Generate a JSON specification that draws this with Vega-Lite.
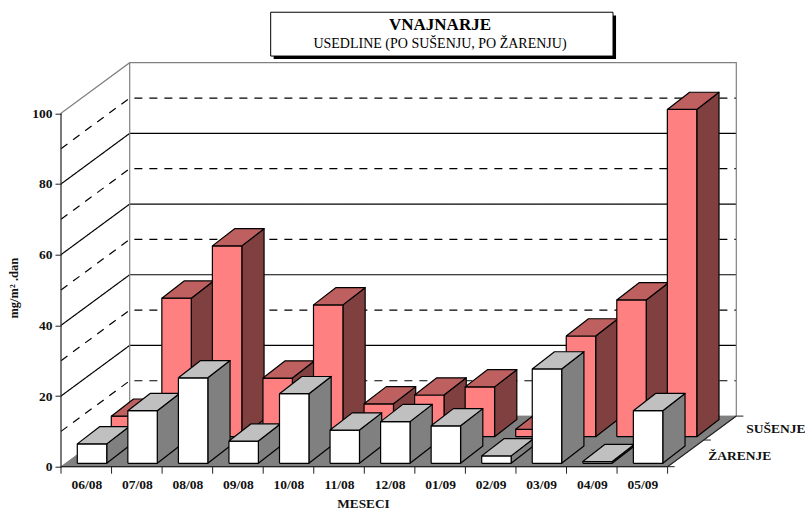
{
"$schema":"https://vega.github.io/schema/vega-lite/v6.json",
"autosize":{"type":"none"},
"padding":{"left":61,"top":62.7,"right":0,"bottom":43.3},
"width":744,"height":404,
"background":"white",
"config":{"view":{"stroke":null},"font":"Liberation Serif"},
"title":{"text":"VNAJNARJE","subtitle":"USEDLINE (PO SUŠENJU, PO ŽARENJU)","font":"Liberation Serif","fontSize":17,"fontWeight":"bold","color":"black","subtitleFont":"Liberation Serif","subtitleFontSize":14,"subtitleColor":"black","subtitlePadding":3,"anchor":"middle","dx":7,"offset":-40,"zindex":1},
"datasets":{
"meseci":[
{"mesec":"06/08","rbr":0,"serija":"SUŠENJE","vrednost":5.8},
{"mesec":"07/08","rbr":1,"serija":"SUŠENJE","vrednost":39.2},
{"mesec":"08/08","rbr":2,"serija":"SUŠENJE","vrednost":54},
{"mesec":"09/08","rbr":3,"serija":"SUŠENJE","vrednost":16.6},
{"mesec":"10/08","rbr":4,"serija":"SUŠENJE","vrednost":37.3},
{"mesec":"11/08","rbr":5,"serija":"SUŠENJE","vrednost":9.3},
{"mesec":"12/08","rbr":6,"serija":"SUŠENJE","vrednost":11.8},
{"mesec":"01/09","rbr":7,"serija":"SUŠENJE","vrednost":14.1},
{"mesec":"02/09","rbr":8,"serija":"SUŠENJE","vrednost":2.1},
{"mesec":"03/09","rbr":9,"serija":"SUŠENJE","vrednost":28.5},
{"mesec":"04/09","rbr":10,"serija":"SUŠENJE","vrednost":38.7},
{"mesec":"05/09","rbr":11,"serija":"SUŠENJE","vrednost":92.6},
{"mesec":"06/08","rbr":0,"serija":"ŽARENJE","vrednost":5.5},
{"mesec":"07/08","rbr":1,"serija":"ŽARENJE","vrednost":14.9},
{"mesec":"08/08","rbr":2,"serija":"ŽARENJE","vrednost":24.2},
{"mesec":"09/08","rbr":3,"serija":"ŽARENJE","vrednost":6.3},
{"mesec":"10/08","rbr":4,"serija":"ŽARENJE","vrednost":19.7},
{"mesec":"11/08","rbr":5,"serija":"ŽARENJE","vrednost":9.4},
{"mesec":"12/08","rbr":6,"serija":"ŽARENJE","vrednost":11.8},
{"mesec":"01/09","rbr":7,"serija":"ŽARENJE","vrednost":10.6},
{"mesec":"02/09","rbr":8,"serija":"ŽARENJE","vrednost":2.1},
{"mesec":"03/09","rbr":9,"serija":"ŽARENJE","vrednost":26.7},
{"mesec":"04/09","rbr":10,"serija":"ŽARENJE","vrednost":0.5},
{"mesec":"05/09","rbr":11,"serija":"ŽARENJE","vrednost":14.9}
],
"pod":[
{"r":0,"mesec":0,"dubina":0,"nivo":0},
{"r":1,"mesec":0,"dubina":1,"nivo":0},
{"r":2,"mesec":12,"dubina":1,"nivo":0},
{"r":3,"mesec":12,"dubina":0,"nivo":0},
{"r":4,"mesec":0,"dubina":0,"nivo":0}
],
"mreza":[
{"nivo":10,"vrsta":"pomocna"},{"nivo":20,"vrsta":"glavna"},{"nivo":30,"vrsta":"pomocna"},{"nivo":40,"vrsta":"glavna"},{"nivo":50,"vrsta":"pomocna"},{"nivo":60,"vrsta":"glavna"},{"nivo":70,"vrsta":"pomocna"},{"nivo":80,"vrsta":"glavna"},{"nivo":90,"vrsta":"pomocna"}
],
"okvir":[
{"linija":"a","r":0,"mesec":0,"dubina":0,"nivo":100},
{"linija":"a","r":1,"mesec":0,"dubina":1,"nivo":100},
{"linija":"a","r":2,"mesec":12,"dubina":1,"nivo":100},
{"linija":"a","r":3,"mesec":12,"dubina":1,"nivo":0},
{"linija":"b","r":0,"mesec":0,"dubina":1,"nivo":100},
{"linija":"b","r":1,"mesec":0,"dubina":1,"nivo":0},
{"linija":"c","r":0,"mesec":0,"dubina":0,"nivo":100},
{"linija":"c","r":1,"mesec":0,"dubina":0,"nivo":0},
{"linija":"c","r":2,"mesec":12,"dubina":0,"nivo":0},
{"linija":"c","r":3,"mesec":12,"dubina":1,"nivo":0}
],
"podeoci":[{"rbr":0},{"rbr":1},{"rbr":2},{"rbr":3},{"rbr":4},{"rbr":5},{"rbr":6},{"rbr":7},{"rbr":8},{"rbr":9},{"rbr":10},{"rbr":11},{"rbr":12}],
"dubine":[{"dubina":0},{"dubina":0.527},{"dubina":1}],
"serije":[{"serija":"SUŠENJE","dubina":0.745},{"serija":"ŽARENJE","dubina":0.217}]
},
"encoding":{
"x":{"field":"vx","type":"quantitative","scale":{"domain":[0,14.718],"nice":false,"zero":false},
"axis":{"values":[0.5,1.5,2.5,3.5,4.5,5.5,6.5,7.5,8.5,9.5,10.5,11.5],"labelExpr":"['06/08','07/08','08/08','09/08','10/08','11/08','12/08','01/09','02/09','03/09','04/09','05/09'][floor(datum.value)]","grid":false,"domain":false,"ticks":false,"labelPadding":11,"labelFont":"Liberation Serif","labelFontWeight":"bold","labelFontSize":13.5,"labelColor":"#111","labelOverlap":false,"labelBound":false,"labelFlush":false,"title":"MESECI","titleFont":"Liberation Serif","titleFontWeight":"bold","titleFontSize":13.3,"titleColor":"#111","titleX":302,"titleY":30,"titleAnchor":"middle","titleAlign":"center"}},
"y":{"field":"vy","type":"quantitative","scale":{"domain":[0,114.32],"nice":false,"zero":false},
"axis":{"values":[0,20,40,60,80,100],"grid":false,"domain":false,"tickSize":6,"tickColor":"#222","tickWidth":1,"labelPadding":3,"labelFont":"Liberation Serif","labelFontWeight":"bold","labelFontSize":13.5,"labelColor":"#111","title":"mg/m² .dan","titleFont":"Liberation Serif","titleFontWeight":"bold","titleFontSize":12.5,"titleColor":"#111","titleX":-41,"titleY":225,"titleAnchor":"middle","titleAlign":"center","titleAngle":-90}}
},
"layer":[
{"data":{"values":[{}]},
"transform":[{"calculate":"4.207","as":"vx"},{"calculate":"10.98","as":"vx2"},{"calculate":"115.36","as":"vy"},{"calculate":"127.7","as":"vy2"}],
"mark":{"type":"rect","fill":"black"},
"encoding":{"x2":{"field":"vx2"},"y2":{"field":"vy2"}}},
{"data":{"values":[{}]},
"transform":[{"calculate":"4.148","as":"vx"},{"calculate":"10.92","as":"vx2"},{"calculate":"116.2","as":"vy"},{"calculate":"128.6","as":"vy2"}],
"mark":{"type":"rect","fill":"white","stroke":"black","strokeWidth":1},
"encoding":{"x2":{"field":"vx2"},"y2":{"field":"vy2"}}},
{"data":{"name":"pod"},
"transform":[{"calculate":"datum.mesec+1.359*datum.dubina","as":"vx"},{"calculate":"datum.nivo+14.32*datum.dubina","as":"vy"}],
"mark":{"type":"line","fill":"#808080","stroke":"#808080","strokeWidth":1},
"encoding":{"order":{"field":"r","type":"quantitative"}}},
{"data":{"name":"mreza"},
"transform":[{"calculate":"[0,1,2]","as":"t"},{"flatten":["t"]},{"calculate":"[0,1.359,13.359][datum.t]","as":"vx"},{"calculate":"datum.nivo+[0,14.32,14.32][datum.t]","as":"vy"}],
"mark":{"type":"line","stroke":"#000","strokeWidth":1.2},
"encoding":{"order":{"field":"t","type":"quantitative"},"detail":{"field":"nivo"},"strokeDash":{"field":"vrsta","type":"nominal","scale":{"domain":["glavna","pomocna"],"range":[[1,0],[8,7]]},"legend":null}}},
{"data":{"name":"okvir"},
"transform":[{"calculate":"datum.mesec+1.359*datum.dubina","as":"vx"},{"calculate":"datum.nivo+14.32*datum.dubina","as":"vy"}],
"mark":{"type":"line","strokeWidth":1.2},
"encoding":{"order":{"field":"r","type":"quantitative"},"stroke":{"field":"linija","type":"nominal","scale":{"domain":["a","b","c"],"range":["#808080","#808080","#222222"]},"legend":null}}},
{"data":{"name":"podeoci"},
"transform":[{"calculate":"datum.rbr","as":"vx"},{"calculate":"0","as":"vy"},{"calculate":"-1.98","as":"vy2"}],
"mark":{"type":"rule","color":"#222","strokeWidth":1},
"encoding":{"y2":{"field":"vy2"}}},
{"data":{"name":"dubine"},
"transform":[{"calculate":"12+1.359*datum.dubina","as":"vx"},{"calculate":"datum.vx+0.14","as":"vx2"},{"calculate":"14.32*datum.dubina","as":"vy"}],
"mark":{"type":"rule","color":"#222","strokeWidth":1},
"encoding":{"x2":{"field":"vx2"}}},
{"data":{"name":"meseci"},
"transform":[
{"calculate":"datum.rbr+(datum.serija==='SUŠENJE'?0.995:0.3225)","as":"x0"},
{"calculate":"datum.x0+0.582","as":"x1"},
{"calculate":"datum.serija==='SUŠENJE'?8.49:0.96","as":"yb"},
{"calculate":"datum.yb+datum.vrednost","as":"yt"},
{"calculate":"['bok','lice','vrh']","as":"strana"},{"flatten":["strana"]},
{"calculate":"[0,1,2,3,4]","as":"teme"},{"flatten":["teme"]},
{"calculate":"datum.strana==='bok'?[datum.x1,datum.x1,datum.x1+0.44,datum.x1+0.44,datum.x1][datum.teme]:datum.strana==='lice'?[datum.x0,datum.x1,datum.x1,datum.x0,datum.x0][datum.teme]:[datum.x0,datum.x1,datum.x1+0.44,datum.x0+0.44,datum.x0][datum.teme]","as":"vx"},
{"calculate":"datum.strana==='bok'?[datum.yb,datum.yt,datum.yt+4.87,datum.yb+4.87,datum.yb][datum.teme]:datum.strana==='lice'?[datum.yb,datum.yb,datum.yt,datum.yt,datum.yb][datum.teme]:[datum.yt,datum.yt,datum.yt+4.87,datum.yt+4.87,datum.yt][datum.teme]","as":"vy"},
{"calculate":"datum.serija+'/'+datum.strana","as":"lice"}
],
"mark":{"type":"line","stroke":"black","strokeWidth":1.2,"strokeJoin":"round"},
"encoding":{"order":{"field":"teme","type":"quantitative"},"detail":{"field":"mesec"},
"fill":{"field":"lice","type":"nominal","legend":null,"scale":{"domain":["SUŠENJE/bok","SUŠENJE/lice","SUŠENJE/vrh","ŽARENJE/bok","ŽARENJE/lice","ŽARENJE/vrh"],"range":["#804040","#FF8080","#BF6060","#808080","#FFFFFF","#C0C0C0"]}}}},
{"data":{"name":"serije"},
"transform":[{"calculate":"13.13+1.359*datum.dubina","as":"vx"},{"calculate":"14.32*datum.dubina","as":"vy"}],
"mark":{"type":"text","font":"Liberation Serif","fontWeight":"bold","fontSize":13.5,"color":"#111","align":"center","baseline":"middle"},
"encoding":{"text":{"field":"serija"}}}
]
}
